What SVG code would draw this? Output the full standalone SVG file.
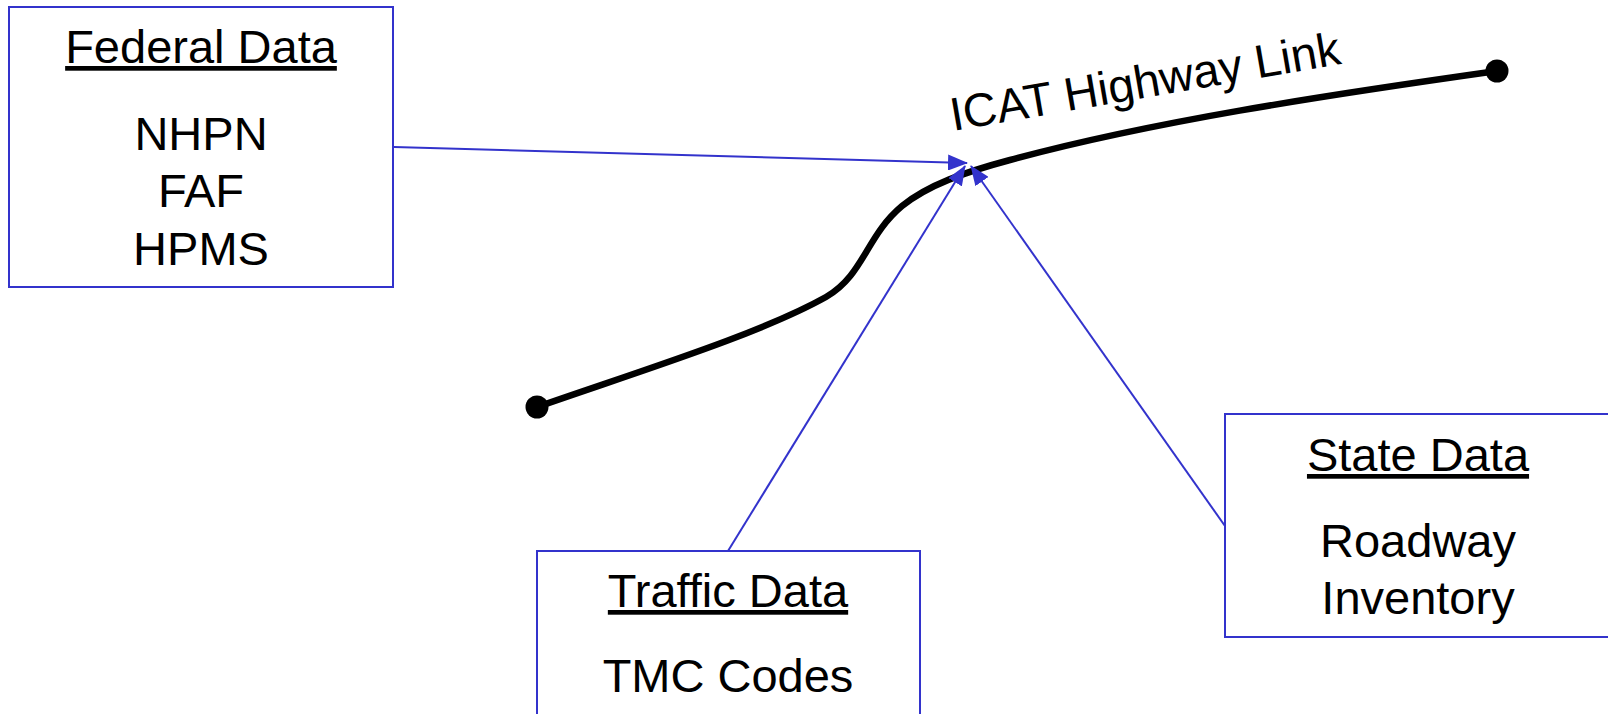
<svg xmlns="http://www.w3.org/2000/svg" width="1608" height="714" viewBox="0 0 1608 714">
<style>
.box{fill:#ffffff;stroke:#3333cc;stroke-width:2}
.t{font-family:"Liberation Sans",Arial,sans-serif;font-size:47px;fill:#000;text-anchor:middle}
.u{text-decoration:underline}
.conn{stroke:#3333cc;stroke-width:2;fill:none}
</style>
<defs>
<marker id="ah" viewBox="0 0 20 16" refX="19" refY="8" markerWidth="20" markerHeight="16" markerUnits="userSpaceOnUse" orient="auto">
<path d="M0,0 L20,8 L0,16 z" fill="#3333cc"/>
</marker>
</defs>
<g id="highway">
<path d="M537,407 C640,371 760,334 826,297 C864,275 866,236 902,206 C928,185 965,172 1010,160 C1150,122 1320,96 1497,71" fill="none" stroke="#000" stroke-width="6.5"/>
<circle cx="537" cy="407" r="11.5" fill="#000"/>
<circle cx="1497" cy="71" r="11.5" fill="#000"/>
<text class="t" x="953" y="131" style="text-anchor:start" transform="rotate(-9.8 953 131)">ICAT Highway Link</text>
</g>
<g id="connectors">
<line class="conn" x1="394" y1="147" x2="967" y2="163" marker-end="url(#ah)"/>
<line class="conn" x1="728" y1="551" x2="965" y2="166" marker-end="url(#ah)"/>
<line class="conn" x1="1225" y1="526" x2="971" y2="166" marker-end="url(#ah)"/>
</g>
<g id="federal">
<rect class="box" x="9" y="7" width="384" height="280"/>
<text class="t u" x="201" y="63">Federal Data</text>
<text class="t" x="201" y="150">NHPN</text>
<text class="t" x="201" y="207">FAF</text>
<text class="t" x="201" y="265">HPMS</text>
</g>
<g id="traffic">
<rect class="box" x="537" y="551" width="383" height="180"/>
<text class="t u" x="728" y="607">Traffic Data</text>
<text class="t" x="728" y="692">TMC Codes</text>
</g>
<g id="state">
<rect class="box" x="1225" y="414" width="390" height="223"/>
<text class="t u" x="1418" y="471">State Data</text>
<text class="t" x="1418" y="557">Roadway</text>
<text class="t" x="1418" y="614">Inventory</text>
</g>
</svg>
